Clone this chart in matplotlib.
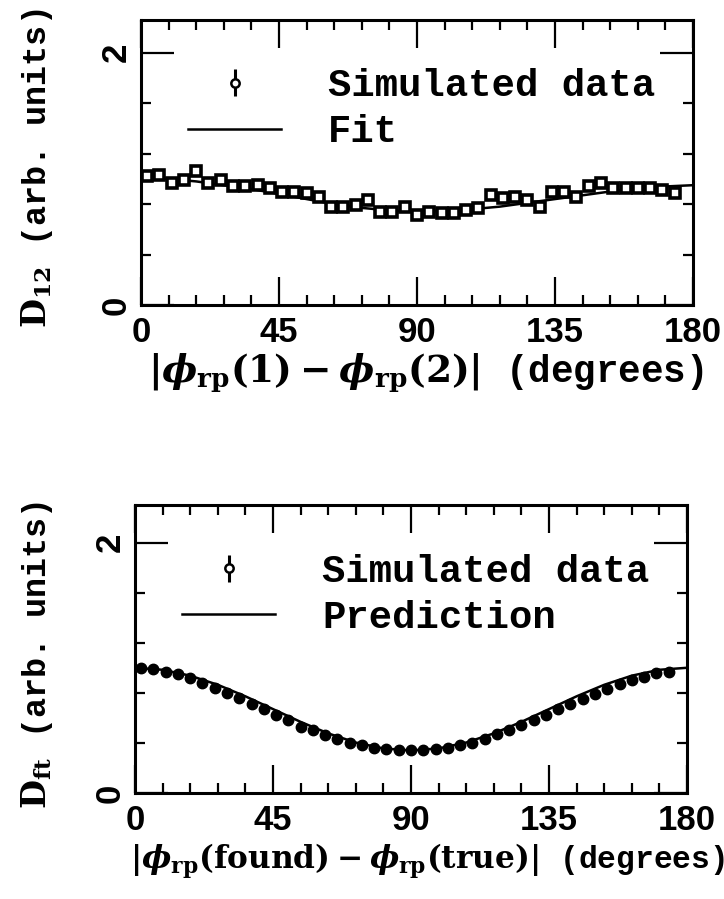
import numpy as np
import matplotlib
matplotlib.use("Agg")
import matplotlib.pyplot as plt
from matplotlib.container import ErrorbarContainer
from matplotlib.legend_handler import HandlerErrorbar

# --- donnees ---
phi_bins = [2, 6, 10, 14, 18, 22, 26, 30, 34, 38, 42, 46, 50, 54, 58, 62, 66, 70, 74, 78, 82, 86,
            90, 94, 98, 102, 106, 110, 114, 118, 122, 126, 130, 134, 138, 142, 146, 150, 154, 158,
            162, 166, 170, 174]

d12_sim = [1.02, 1.03, 0.97, 0.99, 1.06, 0.97, 0.99, 0.94, 0.94, 0.95, 0.93, 0.90, 0.90, 0.89,
           0.86, 0.78, 0.78, 0.79, 0.83, 0.74, 0.74, 0.78, 0.71, 0.74, 0.73, 0.73, 0.75, 0.77,
           0.87, 0.85, 0.86, 0.83, 0.78, 0.90, 0.90, 0.86, 0.94, 0.97, 0.93, 0.93, 0.93, 0.93,
           0.91, 0.89]

dft_sim = [1.00, 0.99, 0.97, 0.95, 0.92, 0.88, 0.84, 0.80, 0.76, 0.71, 0.67, 0.62, 0.58, 0.53,
           0.50, 0.46, 0.43, 0.40, 0.38, 0.36, 0.35, 0.34, 0.34, 0.34, 0.35, 0.36, 0.38, 0.40,
           0.43, 0.47, 0.50, 0.54, 0.58, 0.62, 0.67, 0.71, 0.75, 0.79, 0.83, 0.87, 0.90, 0.93,
           0.96, 0.97]

phi_curve = [0, 9, 18, 27, 36, 45, 54, 63, 72, 81, 90, 99, 108, 117, 126, 135, 144, 153, 162, 171, 180]
d12_fit = [1.01, 1.00, 0.98, 0.95, 0.92, 0.88, 0.84, 0.80, 0.77, 0.75, 0.74, 0.745, 0.76, 0.78,
           0.81, 0.84, 0.87, 0.90, 0.925, 0.94, 0.95]
dft_pred = [1.00, 0.984, 0.937, 0.864, 0.772, 0.67, 0.568, 0.476, 0.403, 0.356, 0.34, 0.356,
            0.403, 0.476, 0.568, 0.67, 0.772, 0.864, 0.937, 0.984, 1.00]

xticks = [0, 45, 90, 135, 180]
yticks = [0, 2]

plt.rcParams['font.family'] = ['Liberation Mono', 'DejaVu Sans']
plt.rcParams['font.weight'] = 'bold'
plt.rcParams['axes.labelweight'] = 'bold'
plt.rcParams['mathtext.fontset'] = 'custom'
plt.rcParams['mathtext.rm'] = 'DejaVu Serif:bold'
plt.rcParams['mathtext.it'] = 'DejaVu Serif:italic:bold'
plt.rcParams['mathtext.bf'] = 'DejaVu Serif:bold'

LABEL_FS = 28
TICK_FS = 25


def style_axes(ax, ymax):
    ax.set_xlim(0, 180)
    ax.set_ylim(0, ymax)
    ax.set_xticks(xticks)
    ax.set_xticks(np.arange(0, 181, 9), minor=True)
    ax.set_yticks(yticks)
    ax.set_yticks(np.arange(0, ymax, 0.4), minor=True)
    ax.tick_params(which='both', direction='in', top=True, right=True, width=1.6, color='black')
    ax.tick_params(axis='x', which='major', length=20, pad=8)
    ax.tick_params(axis='y', which='major', length=24, pad=6)
    ax.tick_params(which='minor', length=7)
    for lab in ax.get_xticklabels() + ax.get_yticklabels():
        lab.set_fontfamily('Liberation Sans')
        lab.set_fontweight('bold')
        lab.set_fontsize(TICK_FS)
    for lab in ax.get_yticklabels():
        lab.set_rotation(90)
        lab.set_va('center')
    for sp in ax.spines.values():
        sp.set_linewidth(2.2)


def add_legend(ax, line, label_line, anchor):
    proxy = ax.errorbar([], [], yerr=[], fmt='o', ms=6, mfc='white', mec='black', mew=1.8,
                        ecolor='black', elinewidth=2.2, capsize=5, capthick=2.2)
    ax.legend([proxy, line], ['Simulated data', label_line], loc='upper left',
              bbox_to_anchor=anchor, frameon=False, fontsize=LABEL_FS,
              handlelength=2.4, handletextpad=1.2, labelspacing=0.25, borderpad=0,
              borderaxespad=0, handler_map={ErrorbarContainer: HandlerErrorbar(yerr_size=0.35)})


fig = plt.figure(figsize=(7.24, 8.99), dpi=100)

# --- D12 ---
ax1 = fig.add_axes([141 / 724, 1 - 305 / 899, 552 / 724, 285 / 899])
ax1.errorbar(phi_bins, d12_sim, yerr=0.02, fmt='s', ms=7, mfc='white', mec='black', mew=2.6,
             ecolor='black', elinewidth=1.2, capsize=0)
fit_line, = ax1.plot(phi_curve, d12_fit, color='black', lw=1.8)
style_axes(ax1, 2.26)
ax1.set_xlabel(r'$|\phi_{\mathrm{rp}}(1)-\phi_{\mathrm{rp}}(2)|$ (degrees)', fontsize=27)
ax1.set_ylabel(r'$\mathrm{D_{12}}$ (arb. units)', fontsize=24)
ax1.xaxis.set_label_coords(0.515, -0.165)
ax1.yaxis.set_label_coords(-0.156, 0.48)
add_legend(ax1, fit_line, 'Fit', (0.085, 0.83))

# --- Dft ---
ax2 = fig.add_axes([135 / 724, 1 - 793 / 899, 552 / 724, 288 / 899])
ax2.errorbar(phi_bins, dft_sim, yerr=0.01, fmt='o', ms=7.5, mfc='black', mec='black',
             ecolor='black', elinewidth=1.2, capsize=0)
pred_line, = ax2.plot(phi_curve, dft_pred, color='black', lw=1.8)
style_axes(ax2, 2.30)
ax2.set_xlabel(r'$|\phi_{\mathrm{rp}}(\mathrm{found})-\phi_{\mathrm{rp}}(\mathrm{true})|$ (degrees)',
               fontsize=22.5)
ax2.set_ylabel(r'$\mathrm{D_{ft}}$ (arb. units)', fontsize=24)
ax2.xaxis.set_label_coords(0.53, -0.17)
ax2.yaxis.set_label_coords(-0.145, 0.48)
add_legend(ax2, pred_line, 'Prediction', (0.085, 0.83))

fig.savefig('out.png', dpi=100)
